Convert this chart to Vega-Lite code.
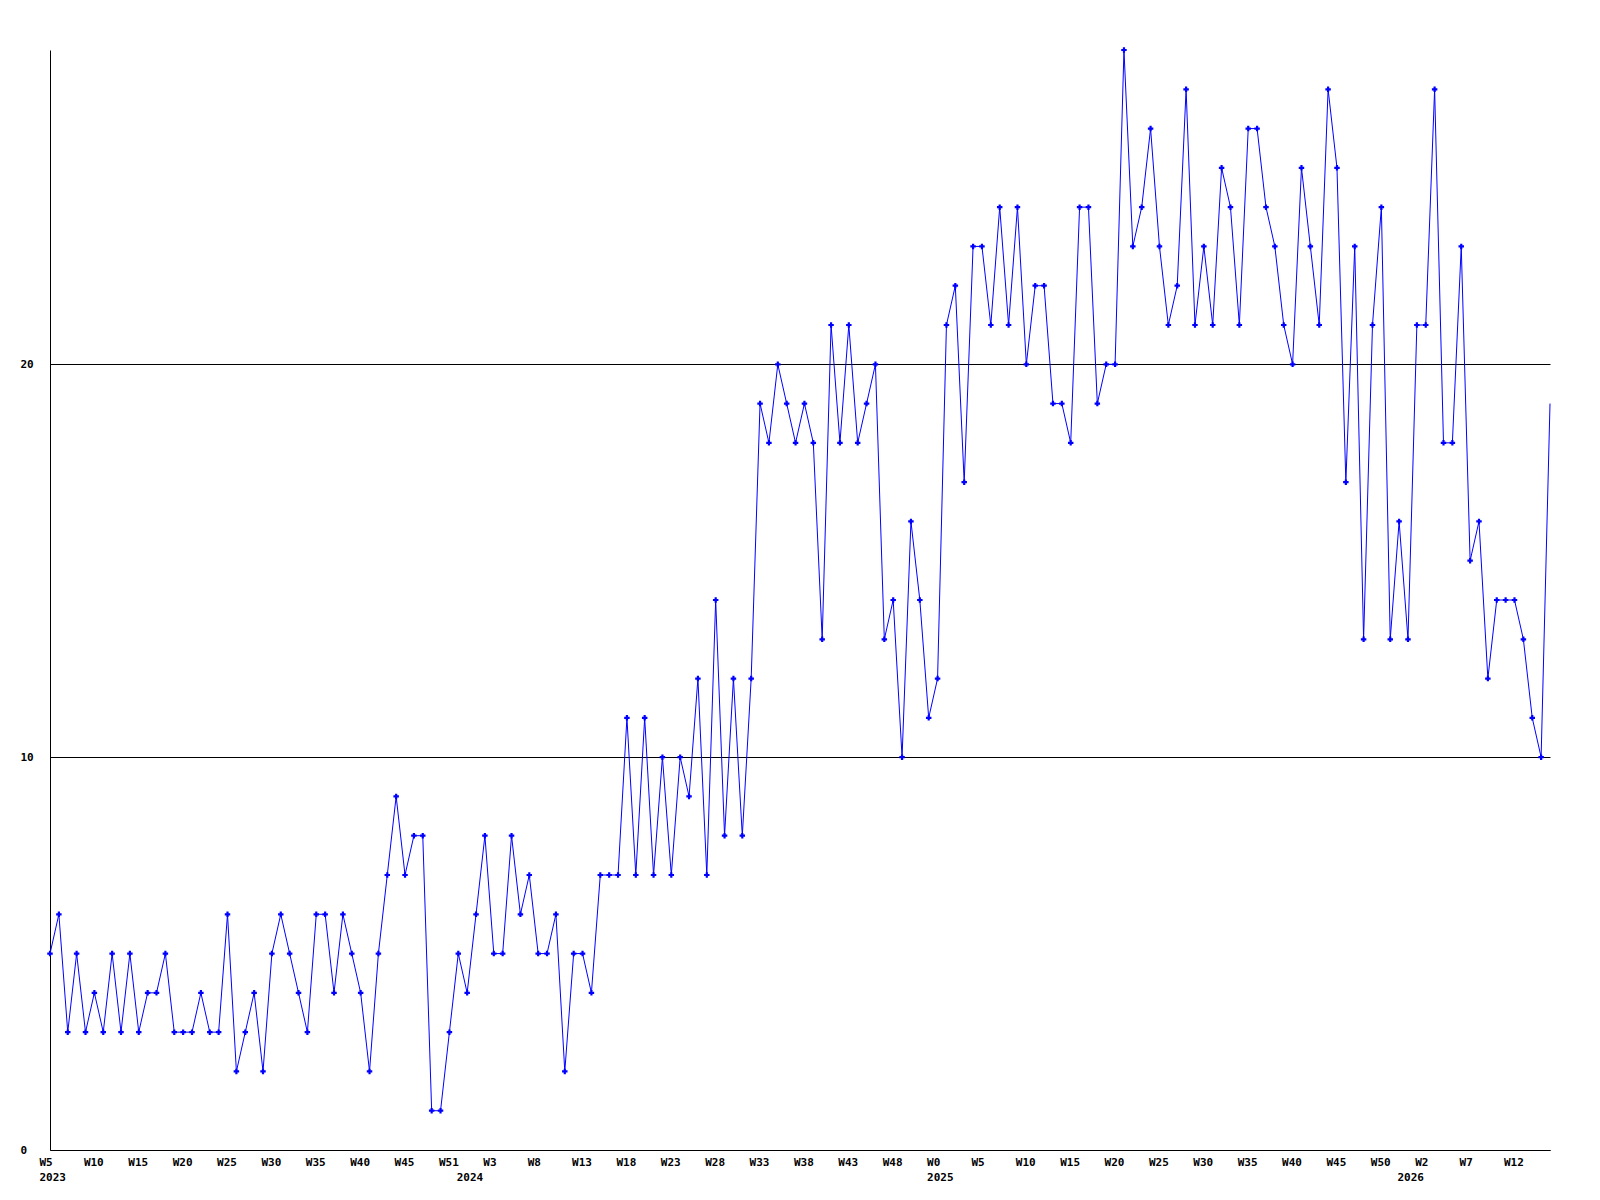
{
  "$schema": "https://vega.github.io/schema/vega-lite/v6.json",
  "width": 1500,
  "height": 1100,
  "autosize": "none",
  "padding": {"left": 50, "top": 50, "right": 50, "bottom": 50},
  "background": "white",
  "config": {"view": {"stroke": null}, "font": "DejaVu Sans Mono"},
  "data": {"values": [
    {"i":0,"v":5},{"i":1,"v":6},{"i":2,"v":3},{"i":3,"v":5},{"i":4,"v":3},{"i":5,"v":4},{"i":6,"v":3},{"i":7,"v":5},{"i":8,"v":3},{"i":9,"v":5},
    {"i":10,"v":3},{"i":11,"v":4},{"i":12,"v":4},{"i":13,"v":5},{"i":14,"v":3},{"i":15,"v":3},{"i":16,"v":3},{"i":17,"v":4},{"i":18,"v":3},{"i":19,"v":3},
    {"i":20,"v":6},{"i":21,"v":2},{"i":22,"v":3},{"i":23,"v":4},{"i":24,"v":2},{"i":25,"v":5},{"i":26,"v":6},{"i":27,"v":5},{"i":28,"v":4},{"i":29,"v":3},
    {"i":30,"v":6},{"i":31,"v":6},{"i":32,"v":4},{"i":33,"v":6},{"i":34,"v":5},{"i":35,"v":4},{"i":36,"v":2},{"i":37,"v":5},{"i":38,"v":7},{"i":39,"v":9},
    {"i":40,"v":7},{"i":41,"v":8},{"i":42,"v":8},{"i":43,"v":1},{"i":44,"v":1},{"i":45,"v":3},{"i":46,"v":5},{"i":47,"v":4},{"i":48,"v":6},{"i":49,"v":8},
    {"i":50,"v":5},{"i":51,"v":5},{"i":52,"v":8},{"i":53,"v":6},{"i":54,"v":7},{"i":55,"v":5},{"i":56,"v":5},{"i":57,"v":6},{"i":58,"v":2},{"i":59,"v":5},
    {"i":60,"v":5},{"i":61,"v":4},{"i":62,"v":7},{"i":63,"v":7},{"i":64,"v":7},{"i":65,"v":11},{"i":66,"v":7},{"i":67,"v":11},{"i":68,"v":7},{"i":69,"v":10},
    {"i":70,"v":7},{"i":71,"v":10},{"i":72,"v":9},{"i":73,"v":12},{"i":74,"v":7},{"i":75,"v":14},{"i":76,"v":8},{"i":77,"v":12},{"i":78,"v":8},{"i":79,"v":12},
    {"i":80,"v":19},{"i":81,"v":18},{"i":82,"v":20},{"i":83,"v":19},{"i":84,"v":18},{"i":85,"v":19},{"i":86,"v":18},{"i":87,"v":13},{"i":88,"v":21},{"i":89,"v":18},
    {"i":90,"v":21},{"i":91,"v":18},{"i":92,"v":19},{"i":93,"v":20},{"i":94,"v":13},{"i":95,"v":14},{"i":96,"v":10},{"i":97,"v":16},{"i":98,"v":14},{"i":99,"v":11},
    {"i":100,"v":12},{"i":101,"v":21},{"i":102,"v":22},{"i":103,"v":17},{"i":104,"v":23},{"i":105,"v":23},{"i":106,"v":21},{"i":107,"v":24},{"i":108,"v":21},{"i":109,"v":24},
    {"i":110,"v":20},{"i":111,"v":22},{"i":112,"v":22},{"i":113,"v":19},{"i":114,"v":19},{"i":115,"v":18},{"i":116,"v":24},{"i":117,"v":24},{"i":118,"v":19},{"i":119,"v":20},
    {"i":120,"v":20},{"i":121,"v":28},{"i":122,"v":23},{"i":123,"v":24},{"i":124,"v":26},{"i":125,"v":23},{"i":126,"v":21},{"i":127,"v":22},{"i":128,"v":27},{"i":129,"v":21},
    {"i":130,"v":23},{"i":131,"v":21},{"i":132,"v":25},{"i":133,"v":24},{"i":134,"v":21},{"i":135,"v":26},{"i":136,"v":26},{"i":137,"v":24},{"i":138,"v":23},{"i":139,"v":21},
    {"i":140,"v":20},{"i":141,"v":25},{"i":142,"v":23},{"i":143,"v":21},{"i":144,"v":27},{"i":145,"v":25},{"i":146,"v":17},{"i":147,"v":23},{"i":148,"v":13},{"i":149,"v":21},
    {"i":150,"v":24},{"i":151,"v":13},{"i":152,"v":16},{"i":153,"v":13},{"i":154,"v":21},{"i":155,"v":21},{"i":156,"v":27},{"i":157,"v":18},{"i":158,"v":18},{"i":159,"v":23},
    {"i":160,"v":15},{"i":161,"v":16},{"i":162,"v":12},{"i":163,"v":14},{"i":164,"v":14},{"i":165,"v":14},{"i":166,"v":13},{"i":167,"v":11},{"i":168,"v":10},{"i":169,"v":19}
  ]},
  "layer": [
    {
      "mark": {"type": "line", "color": "#0000ff", "strokeWidth": 1},
      "encoding": {
        "x": {
          "field": "i", "type": "quantitative",
          "scale": {"domain": [0, 169], "nice": false, "zero": false},
          "axis": {
            "orient": "bottom",
            "title": null,
            "values": [0,5,10,15,20,25,30,35,40,45,50,55,60,65,70,75,80,85,90,95,100,105,110,115,120,125,130,135,140,145,150,155,160,165],
            "labelExpr": "['W5','W10','W15','W20','W25','W30','W35','W40','W45','W51','W3','W8','W13','W18','W23','W28','W33','W38','W43','W48','W0','W5','W10','W15','W20','W25','W30','W35','W40','W45','W50','W2','W7','W12'][round(datum.value/5)]",
            "labelAlign": "left",
            "labelOffset": -11,
            "labelBaseline": "top",
            "labelPadding": 6,
            "labelFont": "DejaVu Sans Mono",
            "labelFontWeight": "bold",
            "labelFontSize": 11,
            "labelColor": "black",
            "labelOverlap": false,
            "labelFlush": false,
            "ticks": false,
            "grid": false,
            "domainColor": "black",
            "domainWidth": 1
          }
        },
        "y": {
          "field": "v", "type": "quantitative",
          "scale": {"domain": [0, 28], "nice": false},
          "axis": {
            "title": null,
            "values": [0, 10, 20],
            "grid": true,
            "gridColor": "black",
            "gridOpacity": 1,
            "gridWidth": 1,
            "ticks": false,
            "domainColor": "black",
            "domainWidth": 1,
            "labelAlign": "left",
            "labelBaseline": "middle",
            "labelPadding": 30,
            "labelFont": "DejaVu Sans Mono",
            "labelFontWeight": "bold",
            "labelFontSize": 11,
            "labelColor": "black"
          }
        }
      }
    },
    {
      "transform": [{"filter": "datum.i < 169"}],
      "mark": {"type": "point", "shape": "cross", "filled": true, "color": "#0000ff", "size": 30, "opacity": 1},
      "encoding": {
        "x": {
          "field": "i", "type": "quantitative",
          "axis": {
            "orient": "bottom",
            "title": null,
            "values": [0, 47, 100, 153],
            "labelExpr": "datum.value < 1 ? '2023' : datum.value < 50 ? '2024' : datum.value < 120 ? '2025' : '2026'",
            "labelAlign": "left",
            "labelOffset": -11,
            "labelBaseline": "top",
            "labelPadding": 21,
            "labelFont": "DejaVu Sans Mono",
            "labelFontWeight": "bold",
            "labelFontSize": 11,
            "labelColor": "black",
            "labelOverlap": false,
            "labelFlush": false,
            "ticks": false,
            "grid": false,
            "domain": false
          }
        },
        "y": {"field": "v", "type": "quantitative"}
      }
    }
  ],
  "resolve": {"axis": {"x": "independent"}}
}
